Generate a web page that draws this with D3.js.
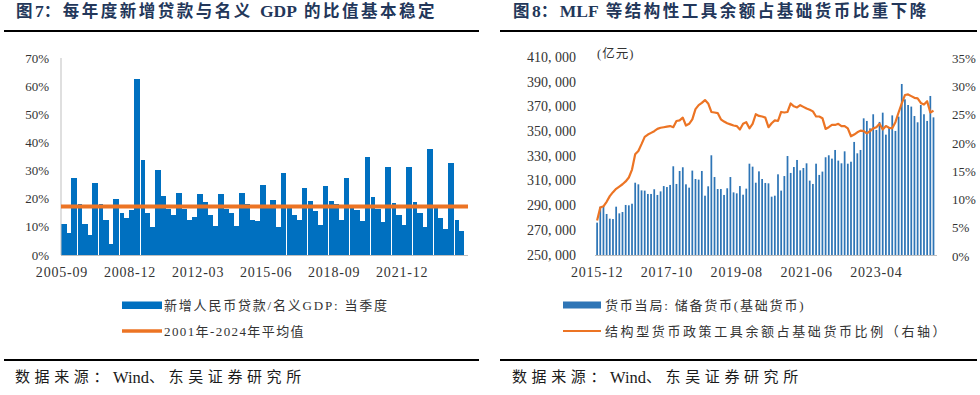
<!DOCTYPE html>
<html>
<head>
<meta charset="utf-8">
<script src="https://cdn.jsdelivr.net/npm/d3@7"></script>
<style>
  body { margin: 0; background: #fff; }
  svg { display: block; }
  text { white-space: pre; }
</style>
</head>
<body>
<div id="chart"></div>
<script>
// ---- data: figure 7 (quarterly new RMB loans / nominal GDP, 2005Q3 - 2024Q3)
const loanStart = new Date(2005, 8, 1);
const loanRatio = [
  10.9, 7.8, 27.3, 18.0, 10.9, 7.1, 25.5, 18.0, 12.3, 3.9, 19.8, 14.8, 13.2, 16.0,
  62.5, 33.8, 14.8, 9.8, 30.2, 21.0, 16.5, 14.2, 22.1, 16.5, 12.5, 13.5, 21.6, 18.9,
  14.1, 10.2, 21.8, 16.5, 14.9, 10.2, 21.9, 18.0, 12.5, 12.2, 24.9, 16.6, 19.6, 10.1,
  29.1, 16.6, 14.2, 12.5, 23.7, 19.2, 15.7, 10.7, 24.6, 19.2, 18.0, 12.5, 27.3, 16.6,
  16.0, 12.2, 35.0, 20.5, 16.3, 11.9, 31.2, 18.4, 14.1, 10.6, 31.4, 18.9, 14.8, 10.1,
  37.7, 16.6, 13.0, 9.1, 32.6, 12.5, 8.7
];
const loanAvg = 17.2;
const loanTicks = ['2005-09', '2008-12', '2012-03', '2015-06', '2018-09', '2021-12'];
const pctTicksL = [0, 10, 20, 30, 40, 50, 60, 70];

// ---- data: figure 8 (monthly reserve money, 亿元, and structural tools share, %)
const mbStart = new Date(2015, 11, 1);
const reserveMoney = [
  276200, 289100, 289700, 283200, 279400, 279100, 289100, 283700, 284800, 290500,
  290200, 291500, 308500, 307200, 302300, 302100, 299400, 299400, 303200, 298600,
  301500, 305800, 305000, 306700, 321800, 307500, 318000, 321000, 307200, 304500,
  318300, 311500, 311000, 318000, 298000, 305600, 330700, 313100, 303400, 303400,
  298600, 304000, 313100, 300700, 299900, 305800, 298800, 303700, 323900, 321500,
  308500, 317700, 311500, 308300, 308000, 297200, 298000, 315300, 302100, 313900,
  330100, 316400, 321200, 326900, 318500, 320400, 324200, 310200, 307500, 323900,
  314800, 317500, 329100, 330700, 328000, 335000, 326400, 324200, 333900, 323900,
  325500, 341500, 332300, 335000, 360600, 358500, 352500, 363900, 351200, 357700,
  365200, 347400, 353300, 363000, 350400, 362000, 388400, 376000, 371400, 370100,
  362500, 357400, 371400, 363900, 358500, 378700, 361400
];
const toolShare = [
  6.3, 8.6, 8.8, 9.6, 10.6, 11.3, 11.9, 12.3, 12.7, 13.2, 13.9, 15.3, 18.0, 18.6,
  19.8, 21.1, 21.5, 21.8, 22.1, 22.5, 22.7, 22.8, 22.9, 23.0, 22.8, 23.9, 24.0, 24.5,
  23.1, 23.4, 24.2, 26.0, 26.7, 27.1, 27.6, 27.0, 25.5, 25.4, 25.3, 24.2, 23.8, 23.5,
  23.3, 23.1, 23.0, 22.4, 23.4, 23.7, 22.6, 23.4, 25.1, 24.8, 24.7, 24.5, 22.8, 23.5,
  24.0, 23.9, 25.5, 25.4, 25.5, 27.0, 26.5, 26.3, 26.7, 26.4, 26.1, 25.9, 25.6, 24.7,
  24.7, 24.4, 22.5, 22.8, 23.2, 23.2, 23.4, 23.0, 23.0, 22.6, 21.2, 21.5, 21.9, 22.2,
  22.1, 21.7, 22.1, 22.6, 22.8, 23.4, 22.4, 23.0, 22.7, 22.6, 23.7, 25.4, 27.0, 28.5,
  28.6, 28.3, 28.0, 27.9, 27.1, 26.8, 27.4, 25.4, 25.7
];
const mbTicks = ['2015-12', '2017-10', '2019-08', '2021-06', '2023-04'];
const mbAxisL = [250000, 270000, 290000, 310000, 330000, 350000, 370000, 390000, 410000];
const pctTicksR = [0, 5, 10, 15, 20, 25, 30, 35];

const SERIF = '"Liberation Serif", "Times New Roman", "Noto Sans CJK SC", serif';
const CJK = '"Liberation Serif", "Noto Sans CJK SC", sans-serif';
const BLUE = '#0070C0';
const ORANGE = '#EC7424';
const fmtDate = d3.timeFormat('%Y-%m');

const svg = d3.select('#chart').append('svg')
  .attr('width', 980)
  .attr('height', 395)
  .style('background', '#fff');

// write mixed text: CJK runs get letter spacing, latin runs a slightly larger size
const cjkRe = /[\u3000-\u9fff\uff00-\uffef]/;
function mixedText(sel, str, cjkSpacing, latinSize) {
  const runs = str.match(/[\u3000-\u9fff\uff00-\uffef]+| +|[^\u3000-\u9fff\uff00-\uffef ]+/g);
  runs.forEach(r => {
    const t = sel.append('tspan').text(r);
    if (cjkRe.test(r)) t.style('letter-spacing', cjkSpacing + 'px');
    else if (r.trim() === '') t.style('letter-spacing', '3px');
    else if (latinSize) t.style('font-size', latinSize + 'px');
  });
}

// titles, rules and footers
const panels = [
  { x0: 4, x1: 479, tx: 16, title: '图7：每年度新增贷款与名义 GDP 的比值基本稳定' },
  { x0: 500, x1: 977, tx: 513, title: '图8：MLF 等结构性工具余额占基础货币比重下降' }
];
panels.forEach(p => {
  const title = svg.append('text')
    .attr('x', p.tx).attr('y', 17)
    .attr('xml:space', 'preserve')
    .style('font-family', CJK)
    .style('font-size', '16.5px')
    .style('font-weight', 'bold')
    .style('fill', '#23375a');
  mixedText(title, p.title, 2.5, 17.5);
  [31, 360].forEach(y => {
    svg.append('line')
      .attr('x1', p.x0).attr('x2', p.x1).attr('y1', y).attr('y2', y)
      .style('stroke', '#000').style('stroke-width', 2);
  });
  const foot = svg.append('text')
    .attr('x', p.tx - 1).attr('y', 377)
    .attr('dominant-baseline', 'central')
    .style('font-family', CJK)
    .style('font-size', '15px')
    .style('fill', '#1a1a1a');
  mixedText(foot, '数据来源：Wind、东吴证券研究所', 4.6, 16.5);
});

// ---- left chart
const loanDates = loanRatio.map((d, i) => d3.timeMonth.offset(loanStart, i * 3));
const xL = d3.scaleBand().domain(loanDates.map(fmtDate)).range([61, 464]).padding(0);
const yL = d3.scaleLinear().domain([0, 70]).range([255, 58]);

const gL = svg.append('g');
gL.selectAll('.loan-bar')
  .data(loanRatio)
  .enter()
  .append('rect')
  .attr('class', 'loan-bar')
  .attr('x', (d, i) => xL(fmtDate(loanDates[i])) + (i % 4 === 3 ? 1 : 0))
  .attr('y', d => yL(d))
  .attr('width', (d, i) => xL.bandwidth() - (i % 4 === 3 ? 1 : 0) + 0.4)
  .attr('height', d => yL(0) - yL(d))
  .style('fill', BLUE)
  .attr('shape-rendering', 'crispEdges');

gL.append('line')
  .attr('x1', 61).attr('x2', 61).attr('y1', 58).attr('y2', 255)
  .style('stroke', '#bfbfbf').style('stroke-width', 1);
gL.append('line')
  .attr('x1', 61).attr('x2', 468).attr('y1', 255.5).attr('y2', 255.5)
  .style('stroke', '#bfbfbf').style('stroke-width', 1);

gL.append('line')
  .attr('x1', 61).attr('x2', 468).attr('y1', yL(loanAvg)).attr('y2', yL(loanAvg))
  .style('stroke', ORANGE).style('stroke-width', 4);

gL.selectAll('.ytick')
  .data(pctTicksL)
  .enter()
  .append('text')
  .attr('x', 49).attr('y', d => yL(d))
  .attr('text-anchor', 'end')
  .attr('dominant-baseline', 'central')
  .style('font-family', SERIF).style('font-size', '13px').style('fill', '#333')
  .text(d => d + '%');

gL.selectAll('.xtick')
  .data(loanTicks)
  .enter()
  .append('text')
  .attr('x', d => xL(d) + 1).attr('y', 272)
  .attr('text-anchor', 'middle')
  .attr('dominant-baseline', 'central')
  .style('font-family', SERIF).style('font-size', '14px')
  .style('letter-spacing', '0.8px').style('fill', '#333')
  .text(d => d);

// legend left
gL.append('rect').attr('x', 122).attr('y', 301.5).attr('width', 40).attr('height', 7.5).style('fill', BLUE);
gL.append('line').attr('x1', 122).attr('x2', 162).attr('y1', 331).attr('y2', 331)
  .style('stroke', ORANGE).style('stroke-width', 3.5);
[['新增人民币贷款/名义GDP: 当季度', 305, 1.8], ['2001年-2024年平均值', 331, 1.4]].forEach(([t, y, ls]) => {
  gL.append('text')
    .attr('x', 164).attr('y', y)
    .attr('dominant-baseline', 'central')
    .style('font-family', CJK).style('font-size', '13px')
    .style('letter-spacing', ls + 'px').style('fill', '#333')
    .text(t);
});

// ---- right chart
const mbDates = reserveMoney.map((d, i) => d3.timeMonth.offset(mbStart, i));
const xR = d3.scaleBand().domain(mbDates.map(fmtDate)).range([595.6, 935]).paddingInner(0.45).paddingOuter(0.2);
const yMb = d3.scaleLinear().domain([250000, 410000]).range([255, 57.3]);
const yPct = d3.scaleLinear().domain([0, 35]).range([256, 58.3]);

const gR = svg.append('g');
gR.selectAll('.mb-bar')
  .data(reserveMoney)
  .enter()
  .append('rect')
  .attr('class', 'mb-bar')
  .attr('x', (d, i) => xR(fmtDate(mbDates[i])))
  .attr('y', d => yMb(d))
  .attr('width', xR.bandwidth())
  .attr('height', d => yMb(250000) - yMb(d))
  .style('fill', '#2E75B6');

gR.append('line')
  .attr('x1', 595).attr('x2', 937).attr('y1', 255.5).attr('y2', 255.5)
  .style('stroke', '#bfbfbf').style('stroke-width', 1);

const shareLine = d3.line()
  .x((d, i) => xR(fmtDate(mbDates[i])) + xR.bandwidth() / 2)
  .y(d => yPct(d));
gR.append('path')
  .datum(toolShare)
  .attr('d', shareLine)
  .style('fill', 'none')
  .style('stroke', ORANGE)
  .style('stroke-width', 2.2)
  .style('stroke-linejoin', 'round');

gR.selectAll('.ytickL')
  .data(mbAxisL)
  .enter()
  .append('text')
  .attr('x', 576).attr('y', d => yMb(d))
  .attr('text-anchor', 'end')
  .attr('dominant-baseline', 'central')
  .style('font-family', SERIF).style('font-size', '14px').style('fill', '#333')
  .text(d => d3.format(',')(d).replace(',', ', '));

gR.selectAll('.ytickR')
  .data(pctTicksR)
  .enter()
  .append('text')
  .attr('x', 952).attr('y', d => yPct(d))
  .attr('dominant-baseline', 'central')
  .style('font-family', SERIF).style('font-size', '13px').style('fill', '#333')
  .text(d => d + '%');

gR.selectAll('.xtickR')
  .data(mbTicks)
  .enter()
  .append('text')
  .attr('x', d => xR(d) + xR.bandwidth() / 2).attr('y', 272)
  .attr('text-anchor', 'middle')
  .attr('dominant-baseline', 'central')
  .style('font-family', SERIF).style('font-size', '14px')
  .style('letter-spacing', '0.8px').style('fill', '#333')
  .text(d => d);

gR.append('text')
  .attr('x', 597).attr('y', 54)
  .attr('dominant-baseline', 'central')
  .style('font-family', CJK).style('font-size', '12.5px')
  .style('letter-spacing', '1px').style('fill', '#333')
  .text('(亿元)');

// legend right
gR.append('rect').attr('x', 563).attr('y', 301.5).attr('width', 38).attr('height', 7).style('fill', '#2E75B6');
gR.append('line').attr('x1', 563).attr('x2', 601).attr('y1', 331).attr('y2', 331)
  .style('stroke', ORANGE).style('stroke-width', 2);
[['货币当局: 储备货币(基础货币)', 305, 1.8], ['结构型货币政策工具余额占基础货币比例（右轴）', 331, 2.6]].forEach(([t, y, ls]) => {
  gR.append('text')
    .attr('x', 605).attr('y', y)
    .attr('dominant-baseline', 'central')
    .style('font-family', CJK).style('font-size', '13px')
    .style('letter-spacing', ls + 'px').style('fill', '#333')
    .text(t);
});
</script>
</body>
</html>
